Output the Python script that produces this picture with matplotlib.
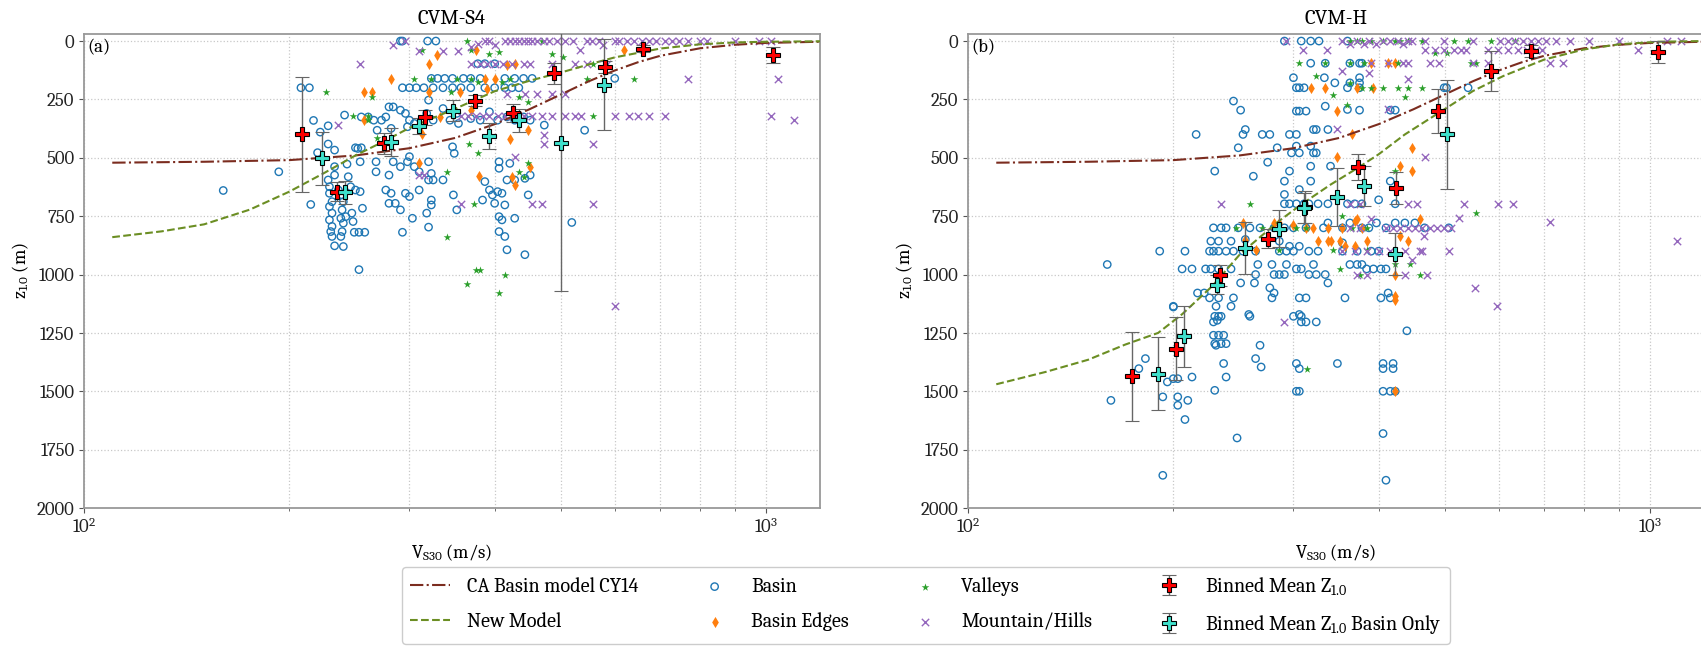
import matplotlib
matplotlib.use("Agg")
import matplotlib.pyplot as plt
import numpy as np
from matplotlib.ticker import MultipleLocator, LogLocator

plt.rcParams['font.family'] = 'serif'
plt.rcParams['font.serif'] = ['Caladea', 'Liberation Serif', 'DejaVu Serif']
plt.rcParams['mathtext.fontset'] = 'custom'
plt.rcParams['mathtext.rm'] = 'Caladea'
plt.rcParams['mathtext.it'] = 'Caladea:italic'
plt.rcParams['font.size'] = 12

# ---- depth models (Vs30 in m/s, z1.0 in m) ----
cy14_vs = [110, 150, 200, 250, 300, 350, 400, 450, 500, 550, 600, 650, 700, 800, 900, 1000, 1200]
cy14_z = [521, 517, 510, 490, 459, 415, 356, 292, 229, 172, 126, 90, 63, 31, 16, 8, 3]

s4_new_vs = [110, 130, 150, 175, 200, 225, 250, 275, 300, 350, 400, 450, 500, 550, 600, 700, 800, 900, 1000, 1200]
s4_new_z = [840, 815, 785, 722, 645, 565, 490, 430, 372, 290, 215, 170, 135, 100, 70, 32, 14, 6, 3, 1]

h_new_vs = [110, 130, 150, 170, 190, 206, 228, 251, 286, 308, 340, 372, 400, 437, 499, 550, 609, 700, 800, 900, 1026, 1200]
h_new_z = [1470, 1417, 1365, 1300, 1250, 1170, 1050, 910, 770, 700, 615, 545, 485, 400, 293, 214, 150, 79, 36, 14, 3, 0]

# ---- CVM-S4 stations (vs30, z1.0) ----
s4_basin = [
    (160, 640), (193, 560), (208, 200), (214, 200), (217, 340), (215, 700), (220, 478), (222, 390),
    (228, 363), (228, 441), (233, 467), (233, 538), (233, 574), (241, 317),
    (228, 595), (229, 624), (229, 652), (231, 688), (229, 709), (231, 737), (229, 766), (231, 794),
    (230, 816), (231, 837), (233, 877), (236, 638), (239, 659), (240, 688), (239, 723), (238, 759),
    (240, 780), (239, 816), (238, 837), (240, 880), (246, 624), (247, 737), (248, 773), (249, 819),
    (253, 819), (258, 819), (256, 716), (250, 638), (254, 645), (244, 581), (243, 527), (242, 752),
    (253, 979), (250, 457), (255, 457),
    (293, 200), (300, 200), (307, 200), (315, 200), (325, 200), (336, 200), (347, 200), (357, 200),
    (369, 200), (387, 200), (400, 200), (414, 200), (424, 200), (434, 200),
    (323, 160), (330, 160), (338, 160), (347, 160), (360, 160), (369, 160), (381, 160), (414, 160),
    (428, 160), (441, 160), (454, 160), (600, 160),
    (255, 325), (261, 325), (266, 339), (273, 339), (280, 282), (284, 282), (277, 325), (291, 296),
    (296, 310), (300, 339), (305, 353), (298, 367), (269, 382), (282, 374), (320, 253), (318, 310),
    (325, 339), (336, 289), (352, 310), (344, 339), (354, 353), (369, 332), (381, 339), (393, 303),
    (404, 339), (417, 325), (428, 339), (441, 325), (451, 339), (473, 360), (542, 382),
    (291, 0), (293, 0), (319, 0), (328, 0), (378, 97), (387, 97), (400, 97),
    (254, 517), (268, 517), (284, 517), (298, 517), (320, 517), (268, 560), (280, 574), (252, 460),
    (300, 495), (310, 560), (323, 567), (336, 595), (347, 453), (349, 481), (291, 538), (305, 538),
    (320, 595), (325, 595), (282, 652), (280, 695), (286, 695), (296, 652), (300, 666), (310, 638),
    (323, 681), (323, 702), (318, 737), (303, 759), (320, 797), (293, 819), (291, 723), (277, 638),
    (352, 723), (348, 659), (387, 602), (406, 517), (421, 524), (406, 545), (417, 595), (428, 595),
    (393, 638), (397, 659), (404, 645), (410, 652), (384, 681), (400, 695), (414, 702), (406, 752),
    (410, 766), (428, 759), (406, 816), (414, 837), (417, 894), (443, 915), (519, 777), (448, 659),
    (451, 574), (443, 588),
]
s4_edges = [
    (282, 161), (257, 218), (264, 218), (257, 339), (320, 218), (329, 61), (320, 97), (356, 218),
    (375, 40), (387, 161), (400, 161), (417, 104), (428, 97), (390, 204), (313, 396), (310, 524),
    (379, 578), (421, 421), (448, 382), (424, 581), (428, 616), (451, 538), (619, 40), (333, 325),
    (369, 296),
]
s4_valleys = [
    (226, 218), (264, 239), (248, 322), (261, 322), (269, 417), (305, 161), (313, 40), (323, 161),
    (345, 218), (352, 161), (364, 0), (369, 40), (369, 161), (378, 175), (393, 54), (406, 47),
    (410, 175), (421, 161), (434, 239), (448, 260), (470, 0), (485, 54), (504, 68), (546, 161),
    (558, 97), (640, 161), (558, 322), (367, 441), (378, 481), (341, 560), (448, 521), (434, 560),
    (441, 581), (373, 698), (341, 840), (375, 979), (381, 979), (364, 1039), (414, 1001), (406, 1079),
    (261, 339),
]
s4_mountain = [
    (284, 18), (296, 0), (310, 43), (336, 43), (354, 43), (369, 26), (378, 11), (387, 0), (393, 0),
    (400, 18), (414, 0), (421, 0), (428, 0), (434, 0), (441, 0), (448, 0), (454, 0), (462, 0),
    (473, 0), (481, 0), (493, 0), (508, 0), (521, 0), (533, 40), (546, 0), (555, 0), (568, 0),
    (577, 18), (600, 0), (609, 0), (625, 0), (641, 0), (657, 0), (673, 0), (690, 0), (711, 0),
    (728, 0), (746, 0), (769, 0), (800, 0), (818, 0), (902, 0), (977, 0), (1016, 0),
    (369, 97), (381, 97), (390, 97), (400, 97), (411, 97), (424, 97), (441, 97), (450, 97),
    (485, 97), (524, 97), (546, 97), (585, 97), (254, 97), (769, 161), (1041, 161),
    (417, 225), (443, 225), (462, 225), (485, 225), (508, 225),
    (357, 322), (366, 322), (375, 322), (384, 322), (393, 322), (404, 322), (414, 322), (428, 322),
    (441, 322), (454, 322), (470, 322), (485, 322), (508, 322), (524, 322), (536, 322), (600, 322),
    (629, 322), (650, 322), (673, 322), (711, 322), (1016, 322), (1100, 339),
    (236, 360), (473, 403), (473, 441), (558, 441), (428, 495), (310, 574), (315, 574), (357, 699),
    (454, 699), (470, 699), (558, 699), (600, 1136),
]
s4_bin_vs = [209, 235, 275, 316, 374, 426, 488, 580, 660, 1024]
s4_bin_z = [400, 645, 438, 327, 256, 308, 137, 111, 33, 61]
s4_bin_err = [248, 40, 46, 32, 24, 40, 45, 25, 15, 35]
s4_basin_bin_vs = [223, 241, 282, 310, 348, 393, 434, 500, 578]
s4_basin_bin_z = [503, 648, 434, 363, 299, 406, 339, 436, 187]
s4_basin_bin_err = [115, 50, 60, 35, 45, 55, 50, 636, 195]

# ---- CVM-H stations (vs30, z1.0) ----
h_basin = [
    (291, 0), (308, 0), (318, 0), (327, 0), (360, 0),
    (318, 95), (334, 95), (363, 95), (375, 95), (378, 95),
    (300, 157), (333, 157), (345, 179), (363, 179), (375, 179), (375, 157), (499, 200),
    (303, 200), (306, 200), (311, 200), (360, 200), (375, 200), (541, 200), (503, 200),
    (303, 300), (313, 300), (306, 300), (334, 279), (360, 293), (375, 296), (416, 296), (423, 296),
    (245, 257), (251, 296), (255, 379), (253, 400), (270, 400), (277, 400), (216, 400), (296, 400),
    (303, 400), (321, 379), (324, 379), (337, 379),
    (249, 457), (284, 457), (298, 479), (306, 479), (303, 450), (318, 450), (321, 479), (324, 479),
    (275, 519), (296, 557), (318, 536), (340, 536), (262, 579), (230, 557), (291, 600), (318, 600),
    (416, 600), (291, 657), (306, 636),
    (291, 697), (296, 697), (303, 697), (311, 697), (316, 697), (326, 697), (337, 697), (360, 697),
    (369, 697), (378, 697), (400, 680), (423, 697),
    (229, 800), (235, 800), (239, 800), (249, 800), (259, 800), (268, 800), (281, 800), (291, 800),
    (300, 800), (313, 800), (332, 800), (337, 779), (354, 800), (363, 779), (378, 800), (387, 800),
    (397, 779), (410, 800), (423, 779), (437, 779), (452, 779), (467, 800), (507, 800),
    (227, 857), (233, 857), (243, 857), (255, 850), (286, 857), (296, 879), (306, 879), (354, 864),
    (191, 900), (208, 900), (226, 900), (229, 900), (233, 900), (239, 900), (245, 900), (253, 900),
    (264, 900), (286, 900), (293, 900), (300, 900), (316, 900), (326, 900), (354, 900), (372, 900),
    (390, 900), (400, 900),
    (160, 957), (206, 976), (213, 976), (223, 976), (227, 976), (233, 976), (243, 976), (264, 1000),
    (281, 1000), (286, 1000), (291, 1000), (303, 976), (308, 976), (316, 1000), (324, 1000),
    (334, 1000), (337, 1036), (384, 976), (393, 976), (403, 976), (410, 976), (266, 957), (279, 957),
    (293, 957), (321, 957), (363, 957), (372, 957), (378, 957),
    (217, 1079), (222, 1079), (226, 1100), (233, 1100), (245, 1100), (279, 1100), (281, 1079),
    (306, 1100), (313, 1100), (357, 1100), (403, 1100), (413, 1079), (416, 1100), (251, 1036),
    (263, 1036), (277, 1057),
    (200, 1136), (231, 1136), (243, 1136), (258, 1171), (306, 1171), (308, 1179),
    (200, 1139), (229, 1203), (230, 1179), (233, 1179), (235, 1179), (232, 1196), (229, 1260),
    (233, 1260), (237, 1260), (230, 1296), (235, 1296), (239, 1296), (231, 1303), (237, 1381),
    (239, 1439), (230, 1496), (259, 1179), (300, 1179), (308, 1203), (313, 1203), (324, 1203),
    (268, 1303), (269, 1396), (264, 1360), (348, 1381), (303, 1381), (306, 1403), (303, 1500),
    (306, 1500), (406, 1381), (420, 1381), (406, 1403), (420, 1403), (406, 1500), (416, 1500),
    (423, 1500), (406, 1681), (410, 1881), (440, 1241), (162, 1539), (178, 1403), (182, 1360),
    (193, 1860), (193, 1524), (196, 1460), (200, 1446), (203, 1446), (203, 1524), (203, 1560),
    (208, 1621), (210, 1539), (213, 1439), (248, 1700),
]
h_edges = [
    (318, 200), (334, 200), (372, 200), (393, 200), (390, 95), (413, 95), (423, 95), (348, 300),
    (366, 400), (448, 457), (348, 497), (430, 536), (448, 557), (460, 761), (253, 779), (255, 850),
    (264, 893), (281, 779), (286, 779), (300, 786), (313, 800), (321, 800), (337, 800), (354, 800),
    (369, 771), (378, 800), (372, 761), (326, 857), (337, 857), (340, 857), (351, 857), (357, 879),
    (369, 879), (384, 857), (430, 836), (441, 857), (423, 1000), (423, 1093), (423, 1110),
    (423, 1500),
]
h_valleys = [
    (363, 0), (372, 0), (378, 0), (390, 0), (406, 0), (423, 0), (430, 0), (441, 0), (463, 0),
    (515, 0), (541, 0), (584, 0), (633, 0),
    (306, 95), (334, 95), (363, 95), (381, 95), (427, 95), (483, 50), (503, 50), (546, 95), (555, 95),
    (324, 150), (343, 229), (363, 179), (378, 200), (390, 200), (406, 200), (427, 200), (441, 200),
    (463, 200), (437, 240), (360, 275), (259, 697), (555, 736), (423, 557),
    (247, 800), (270, 800), (303, 800), (313, 800), (366, 800), (384, 800), (354, 750),
    (286, 893), (343, 893), (384, 893), (351, 975), (375, 1000), (423, 957), (445, 957), (460, 1000),
    (314, 1403),
]
h_mountain = [
    (293, 0), (310, 39), (336, 39), (354, 0), (363, 14), (372, 0), (381, 14), (387, 0), (397, 14),
    (406, 0), (416, 0), (427, 0), (434, 14), (441, 0), (448, 0), (467, 0), (483, 39), (499, 0),
    (515, 39), (529, 39), (537, 39), (550, 0), (579, 39), (603, 0), (619, 0), (633, 0), (652, 0),
    (668, 0), (684, 0), (704, 0), (727, 0), (763, 0), (815, 0), (900, 0), (960, 39), (1060, 0),
    (1110, 0), (499, 39), (467, 39), (598, 39), (619, 39), (641, 39), (661, 39), (680, 39), (694, 39),
    (390, 95), (413, 95), (434, 95), (441, 95), (475, 95), (491, 95), (550, 95), (579, 95), (713, 95),
    (746, 95), (354, 129), (387, 136), (441, 161), (413, 293), (348, 376), (467, 497), (235, 697),
    (363, 697), (375, 697), (441, 697), (455, 697), (533, 697), (598, 697), (630, 697), (524, 757),
    (466, 836), (713, 776), (1094, 857),
    (410, 800), (420, 800), (430, 800), (441, 800), (452, 800), (463, 800), (475, 800), (487, 800),
    (499, 800), (511, 800), (363, 800), (375, 800), (390, 761),
    (354, 900), (369, 900), (384, 900), (400, 900), (416, 900), (437, 900), (460, 900), (463, 900),
    (507, 900), (448, 936), (372, 1000), (384, 1000), (437, 1000), (471, 1000), (554, 1057),
    (596, 1136), (291, 1203),
]
h_bin_vs = [174, 202, 234, 275, 312, 373, 424, 489, 584, 668, 1026]
h_bin_z = [1436, 1317, 1004, 846, 711, 540, 629, 300, 129, 43, 46]
h_bin_err = [192, 135, 45, 40, 70, 55, 70, 95, 85, 25, 46]
h_basin_bin_vs = [190, 207, 232, 255, 286, 311, 347, 381, 423, 503]
h_basin_bin_z = [1424, 1264, 1043, 886, 803, 714, 669, 621, 911, 400]
h_basin_bin_err = [157, 130, 40, 110, 80, 65, 125, 85, 90, 232]

panels = [
    dict(title='CVM-S4', tag='(a)', new=(s4_new_vs, s4_new_z), basin=s4_basin, edges=s4_edges,
         valleys=s4_valleys, mountain=s4_mountain,
         binned=(s4_bin_vs, s4_bin_z, s4_bin_err),
         binned_basin=(s4_basin_bin_vs, s4_basin_bin_z, s4_basin_bin_err)),
    dict(title='CVM-H', tag='(b)', new=(h_new_vs, h_new_z), basin=h_basin, edges=h_edges,
         valleys=h_valleys, mountain=h_mountain,
         binned=(h_bin_vs, h_bin_z, h_bin_err),
         binned_basin=(h_basin_bin_vs, h_basin_bin_z, h_basin_bin_err)),
]

fig = plt.figure(figsize=(17.01, 6.46), dpi=100)
axes = [fig.add_axes([0.0494, 0.2136, 0.4327, 0.7337]),
        fig.add_axes([0.5691, 0.2136, 0.4327, 0.7337])]

for ax, p in zip(axes, panels):
    ax.plot(cy14_vs, cy14_z, color='#7b2c1f', ls='-.', lw=1.5, label='CA Basin model CY14', zorder=3)
    ax.plot(p['new'][0], p['new'][1], color='#6b8e23', ls='--', lw=1.5, label='New Model', zorder=3)

    b = np.array(p['basin']).T
    ax.scatter(b[0], b[1], s=28, facecolors='none', edgecolors='#1f77b4', linewidths=1.0,
               label='Basin', zorder=2)
    e = np.array(p['edges']).T
    ax.scatter(e[0], e[1], s=32, marker='d', color='#ff7f0e', linewidths=0, label='Basin Edges', zorder=2)
    v = np.array(p['valleys']).T
    ax.scatter(v[0], v[1], s=34, marker='*', color='#2ca02c', linewidths=0, label='Valleys', zorder=2)
    m = np.array(p['mountain']).T
    ax.scatter(m[0], m[1], s=28, marker='x', color='#9467bd', linewidths=1.0,
               label='Mountain/Hills', zorder=2)

    bv, bz, be = p['binned']
    ax.errorbar(bv, bz, yerr=be, fmt='P', ms=9.5, mfc='red', mec='black', mew=0.8,
                ecolor='#666666', elinewidth=1.0, capsize=5, capthick=1.0,
                label='Binned Mean Z$_{1.0}$', zorder=5)
    cv, cz, ce = p['binned_basin']
    ax.errorbar(cv, cz, yerr=ce, fmt='P', ms=9.5, mfc='#3fe0cc', mec='black', mew=0.8,
                ecolor='#666666', elinewidth=1.0, capsize=5, capthick=1.0,
                label='Binned Mean Z$_{1.0}$ Basin Only', zorder=5)

    ax.set_xscale('log')
    ax.set_xlim(100, 1200)
    ax.set_ylim(2000, -30)
    ax.yaxis.set_major_locator(MultipleLocator(250))
    ax.xaxis.set_minor_locator(LogLocator(subs=np.arange(2, 10)))
    ax.grid(True, which='both', axis='x', ls=':', color='#c8c8c8', lw=0.9)
    ax.grid(True, which='major', axis='y', ls=':', color='#c8c8c8', lw=0.9)
    ax.set_axisbelow(True)
    for s in ax.spines.values():
        s.set_color('#999999')
        s.set_linewidth(1.3)
    ax.tick_params(which='both', colors='#555555', labelcolor='#222222', labelsize=13.5)
    ax.set_title(p['title'], fontsize=15, pad=7)
    ax.set_xlabel('V$_{\\mathrm{S30}}$ (m/s)', fontsize=13.5)
    ax.set_ylabel('z$_{1.0}$ (m)', fontsize=13.5)
    ax.text(0.005, 0.99, p['tag'], transform=ax.transAxes, ha='left', va='top', fontsize=13.5)

handles, labels = axes[0].get_legend_handles_labels()
fig.legend(handles, labels, loc='lower center', bbox_to_anchor=(0.5444, 0.003), ncol=4,
           fontsize=14.5, columnspacing=2.8, handlelength=2.0, labelspacing=0.8,
           borderaxespad=0.0, framealpha=1, edgecolor='#cccccc')

fig.savefig('out.png', dpi=100)
